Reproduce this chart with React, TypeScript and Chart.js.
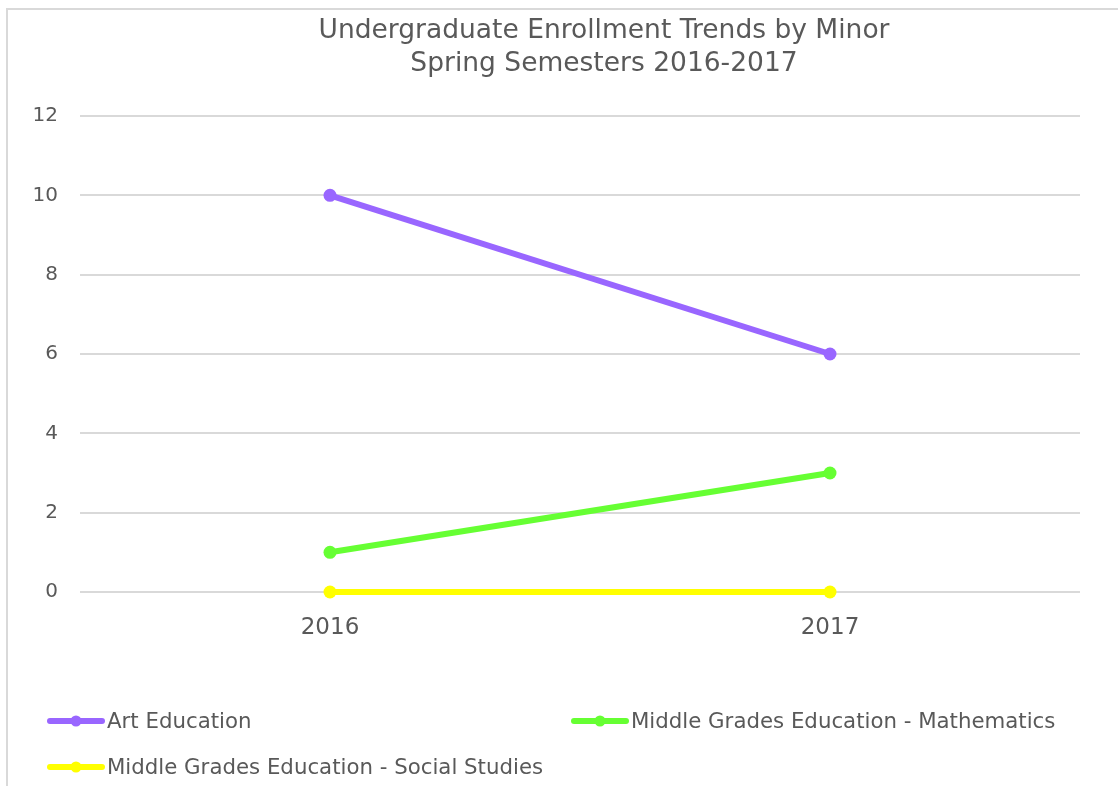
import React, { useEffect, useRef } from "react";
import { Chart, registerables } from "chart.js";

Chart.register(...registerables);

const categories = ["2016", "2017"];
const artEducation = [10, 6];
const mgeMathematics = [1, 3];
const mgeSocialStudies = [0, 0];
const seriesNames = [
  "Art Education",
  "Middle Grades Education - Mathematics",
  "Middle Grades Education - Social Studies",
];
const seriesColors = ["#9966FF", "#66FF33", "#FFFF00"];
const titleLines = ["Undergraduate Enrollment Trends by Minor", "Spring Semesters 2016-2017"];
const yTicks = [0, 2, 4, 6, 8, 10, 12];

const FONT = "'DejaVu Sans', Verdana, sans-serif";
const TEXT = "#595959";

const titlePlugin = {
  id: "customTitle",
  afterDraw(chart: any) {
    const ctx = chart.ctx;
    ctx.save();
    ctx.fillStyle = TEXT;
    ctx.font = `26.5px ${FONT}`;
    ctx.textAlign = "center";
    ctx.textBaseline = "middle";
    ctx.fillText(titleLines[0], 596, 21);
    ctx.fillText(titleLines[1], 596, 54);
    ctx.restore();
  },
};

const legendPlugin = {
  id: "customLegend",
  afterDraw(chart: any) {
    const ctx = chart.ctx;
    const ds = chart.data.datasets;
    ctx.save();
    ctx.font = `21.3px ${FONT}`;
    ctx.textBaseline = "middle";
    ctx.textAlign = "left";
    const pos = [
      [40, 711],
      [564, 711],
      [40, 757],
    ];
    ds.forEach((d: any, i: number) => {
      const [x, y] = pos[i];
      ctx.strokeStyle = d.borderColor;
      ctx.lineWidth = 6;
      ctx.lineCap = "round";
      ctx.beginPath();
      ctx.moveTo(x + 2, y);
      ctx.lineTo(x + 54, y);
      ctx.stroke();
      ctx.fillStyle = d.borderColor;
      ctx.beginPath();
      ctx.arc(x + 28, y, 5.5, 0, Math.PI * 2);
      ctx.fill();
      ctx.fillStyle = TEXT;
      ctx.fillText(d.label, x + 59, y + 1);
    });
    ctx.restore();
  },
};

export default function App() {
  const ref = useRef<HTMLCanvasElement>(null);
  useEffect(() => {
    if (!ref.current) return;
    const mk = (label: string, data: number[], color: string) => ({
      label,
      data,
      borderColor: color,
      backgroundColor: color,
      borderWidth: 6,
      pointRadius: 6.5,
      pointHoverRadius: 6.5,
      pointBorderWidth: 0,
      pointBackgroundColor: color,
      tension: 0,
      clip: false,
    });
    const chart = new Chart(ref.current, {
      type: "line",
      data: {
        labels: categories,
        datasets: [
          mk(seriesNames[0], artEducation, seriesColors[0]),
          mk(seriesNames[1], mgeMathematics, seriesColors[1]),
          mk(seriesNames[2], mgeSocialStudies, seriesColors[2]),
        ],
      },
      options: {
        animation: false,
        responsive: false,
        layout: { padding: { top: 106, left: 0, right: 38, bottom: 134 } },
        plugins: {
          legend: { display: false },
          title: { display: false },
          tooltip: { enabled: false },
        },
        scales: {
          x: {
            offset: true,
            grid: { display: false, drawTicks: false },
            border: { display: false },
            ticks: { color: TEXT, font: { family: FONT, size: 23 }, padding: 22 },
            afterFit(scale: any) {
              scale.height = 60;
            },
          },
          y: {
            min: 0,
            max: 12,
            afterBuildTicks(scale: any) {
              scale.ticks = yTicks.map((v) => ({ value: v }));
            },
            grid: { color: "#d9d9d9", lineWidth: 2, drawTicks: false },
            border: { display: false },
            ticks: { color: TEXT, font: { family: FONT, size: 20 }, padding: 22 },
            afterFit(scale: any) {
              scale.width = 72;
            },
          },
        },
      },
      plugins: [titlePlugin, legendPlugin],
    });
    return () => chart.destroy();
  }, []);
  return (
    <div
      style={{
        position: "fixed",
        left: 6,
        top: 8,
        width: 1124,
        height: 790,
        border: "2px solid #d9d9d9",
        background: "#fff",
      }}
    >
      <canvas ref={ref} width={1110} height={776} style={{ display: "block" }} />
    </div>
  );
}
